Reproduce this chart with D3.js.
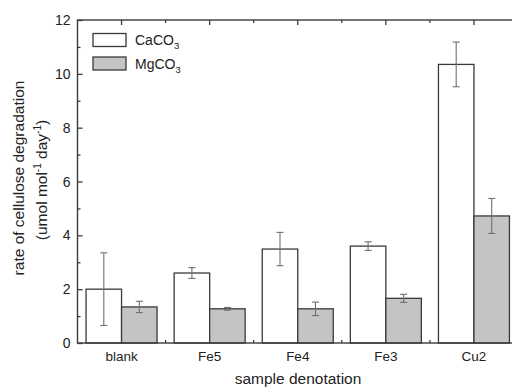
<!DOCTYPE html>
<html>
<head>
<meta charset="utf-8">
<script src="https://cdn.jsdelivr.net/npm/d3@7"></script>
<style>
  body { margin: 0; background: #fff; }
  svg { display: block; font-family: "Liberation Sans", Arial, sans-serif; }
</style>
</head>
<body>
<svg id="chart" width="512" height="387"></svg>
<script>
const categories = ["blank", "Fe5", "Fe4", "Fe3", "Cu2"];
const seriesNames = ["CaCO", "MgCO"];
const caco3 = [2.0, 2.6, 3.49, 3.6, 10.35];
const caco3Err = [1.35, 0.2, 0.62, 0.16, 0.83];
const mgco3 = [1.34, 1.27, 1.27, 1.66, 4.72];
const mgco3Err = [0.21, 0.05, 0.25, 0.15, 0.65];
const yTicks = [0, 2, 4, 6, 8, 10, 12];
const yMinorTicks = [1, 3, 5, 7, 9, 11];

(function () {
const svg = d3.select("#chart");
const pL = 77.5, pR = 518, pT = 20, pB = 343;

const x = d3.scaleBand().domain(categories).range([pL, pR]).padding(0);
const bw = 35.5;
const y = d3.scaleLinear().domain([0, 12]).range([pB, pT]);

const series = [
  { name: seriesNames[0], vals: caco3, errs: caco3Err, fill: "#ffffff", off: -bw },
  { name: seriesNames[1], vals: mgco3, errs: mgco3Err, fill: "#c4c4c4", off: 0 }
];

const stroke = "#3a3a3a";

// bars
series.forEach(s => {
  const g = svg.append("g");
  g.selectAll("rect").data(categories).join("rect")
    .attr("x", (c) => x(c) + x.bandwidth() / 2 + s.off)
    .attr("y", (c, i) => y(s.vals[i]))
    .attr("width", bw)
    .attr("height", (c, i) => y(0) - y(s.vals[i]))
    .attr("fill", s.fill)
    .attr("stroke", stroke)
    .attr("stroke-width", 1.3);
});

// error bars
series.forEach(s => {
  const g = svg.append("g").attr("stroke", "#707070").attr("stroke-width", 1.1);
  categories.forEach((c, i) => {
    const cx = x(c) + x.bandwidth() / 2 + s.off + bw / 2;
    const y1 = y(s.vals[i] + s.errs[i]);
    const y2 = y(s.vals[i] - s.errs[i]);
    g.append("line").attr("x1", cx).attr("x2", cx).attr("y1", y1).attr("y2", y2);
    g.append("line").attr("x1", cx - 3.5).attr("x2", cx + 3.5).attr("y1", y1).attr("y2", y1);
    g.append("line").attr("x1", cx - 3.5).attr("x2", cx + 3.5).attr("y1", y2).attr("y2", y2);
  });
});

// frame
svg.append("rect").attr("x", pL).attr("y", pT)
  .attr("width", pR - pL).attr("height", pB - pT)
  .attr("fill", "none").attr("stroke", stroke).attr("stroke-width", 1.4);

// left axis (inward ticks)
const gy = svg.append("g").attr("transform", `translate(${pL},0)`)
  .call(d3.axisRight(y).tickValues(yTicks).tickSize(5).tickFormat(""));
gy.select(".domain").remove();
gy.selectAll("line").attr("stroke", stroke).attr("stroke-width", 1.3);
const gym = svg.append("g").attr("transform", `translate(${pL},0)`)
  .call(d3.axisRight(y).tickValues(yMinorTicks).tickSize(3).tickFormat(""));
gym.select(".domain").remove();
gym.selectAll("line").attr("stroke", stroke).attr("stroke-width", 1.3);
// right axis ticks
const gyr = svg.append("g").attr("transform", `translate(${pR},0)`)
  .call(d3.axisLeft(y).tickValues(yTicks).tickSize(5).tickFormat(""));
gyr.select(".domain").remove();
gyr.selectAll("line").attr("stroke", stroke);

// y labels
svg.append("g").selectAll("text").data(yTicks).join("text")
  .attr("x", pL - 7).attr("y", d => y(d)).attr("dy", "0.36em")
  .attr("text-anchor", "end").attr("font-size", 14).attr("fill", "#222")
  .text(d => d);

// top axis ticks: major at centers, minor at boundaries
const centers = categories.map(c => x(c) + x.bandwidth() / 2);
const bounds = categories.slice(1).map(c => x(c));
const gt = svg.append("g");
gt.selectAll("line.maj").data(centers).join("line").attr("class", "maj")
  .attr("x1", d => d).attr("x2", d => d).attr("y1", pT).attr("y2", pT + 5)
  .attr("stroke", stroke).attr("stroke-width", 1.3);
gt.selectAll("line.min").data(bounds).join("line").attr("class", "min")
  .attr("x1", d => d).attr("x2", d => d).attr("y1", pT).attr("y2", pT + 3)
  .attr("stroke", stroke).attr("stroke-width", 1.3);
// bottom minor ticks
svg.append("g").selectAll("line").data(bounds).join("line")
  .attr("x1", d => d).attr("x2", d => d).attr("y1", pB).attr("y2", pB - 3)
  .attr("stroke", stroke).attr("stroke-width", 1.3);

// x labels
const gx = svg.append("g").attr("transform", `translate(0,${pB})`)
  .call(d3.axisBottom(x).tickSize(0).tickPadding(8));
gx.select(".domain").remove();
gx.selectAll("text").attr("font-size", 13.5).attr("fill", "#222")
  .attr("font-family", "Liberation Sans, Arial, sans-serif");

// axis titles
svg.append("text").attr("x", 298).attr("y", 384).attr("text-anchor", "middle")
  .attr("font-size", 15.5).attr("fill", "#222").text("sample denotation");

svg.append("text").attr("transform", "translate(24,178) rotate(-90)")
  .attr("text-anchor", "middle").attr("font-size", 15.5).attr("fill", "#222")
  .text("rate of cellulose degradation");
const l2 = svg.append("text").attr("transform", "translate(47,180) rotate(-90)")
  .attr("text-anchor", "middle").attr("font-size", 15.5).attr("fill", "#222");
l2.append("tspan").text("(umol mol");
l2.append("tspan").attr("font-size", 10).attr("dy", -6).text("-1");
l2.append("tspan").attr("dy", 6).text(" day");
l2.append("tspan").attr("font-size", 10).attr("dy", -6).text("-1");
l2.append("tspan").attr("dy", 6).text(")");

// legend
const lg = svg.append("g");
series.forEach((s, i) => {
  const ly = 33.5 + i * 23.5;
  lg.append("rect").attr("x", 93).attr("y", ly).attr("width", 33).attr("height", 13)
    .attr("fill", s.fill).attr("stroke", stroke).attr("stroke-width", 1.3);
  const t = lg.append("text").attr("x", 135).attr("y", ly + 11.5)
    .attr("font-size", 14).attr("fill", "#222");
  t.append("tspan").text(s.name);
  t.append("tspan").attr("font-size", 9.5).attr("dy", 4).text("3");
});
})();
</script>
</body>
</html>
